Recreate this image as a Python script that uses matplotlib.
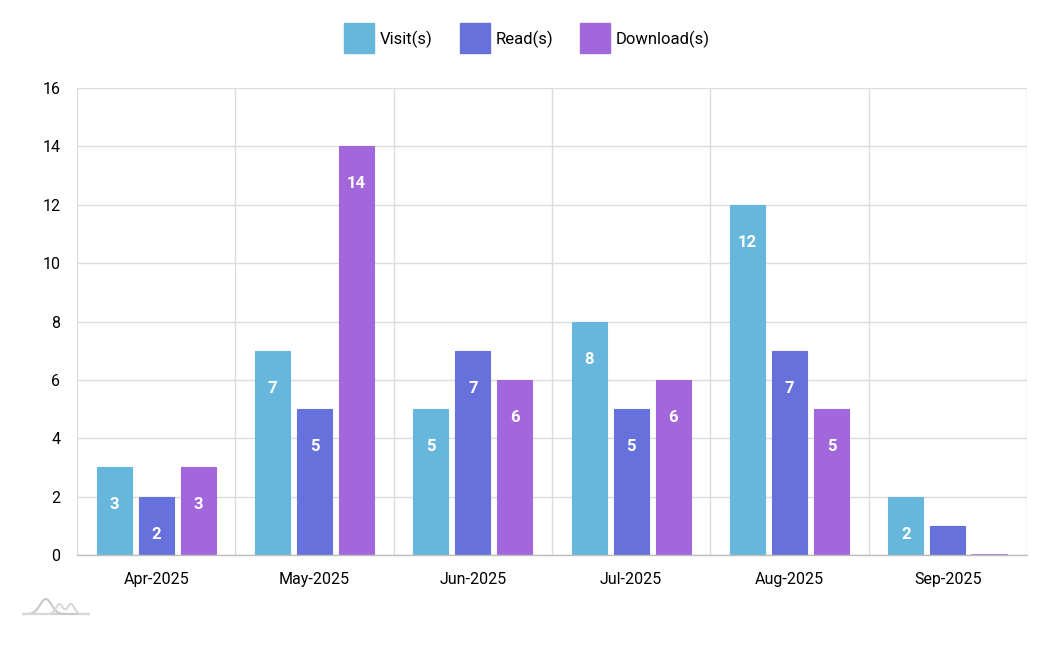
import matplotlib
matplotlib.use("Agg")
import matplotlib.pyplot as plt
import numpy as np
from matplotlib.lines import Line2D

months = ["Apr-2025", "May-2025", "Jun-2025", "Jul-2025", "Aug-2025", "Sep-2025"]
visits = [3, 7, 5, 8, 12, 2]
reads = [2, 5, 7, 5, 7, 1]
downloads = [3, 14, 6, 6, 5, 0]
series_names = ["Visit(s)", "Read(s)", "Download(s)"]
colors = ["#67b7dc", "#6771dc", "#a367dc"]
y_ticks = [0, 2, 4, 6, 8, 10, 12, 14, 16]

plt.rcParams['font.family'] = ['Roboto', 'DejaVu Sans']

W, H = 1056, 645
fig = plt.figure(figsize=(W / 100, H / 100), dpi=100)
ax = fig.add_axes([77 / W, 1 - 555 / H, 950 / W, (555 - 88) / H])

x = np.arange(len(months))
bw = 0.221
step = 0.265
all_series = [visits, reads, downloads]
for i, (vals, c) in enumerate(zip(all_series, colors)):
    pos = x + (i - 1) * step
    ax.bar(pos, vals, width=bw, color=c, edgecolor=c, linewidth=0.8, zorder=3)
    for xp, v in zip(pos, vals):
        if v >= 2:
            ax.annotate(str(v), (xp, v), xytext=(0, -27), textcoords="offset points",
                        ha="center", va="center", color="white", fontsize=12,
                        fontweight="bold", zorder=4)
        if v == 0:
            ax.plot([xp - bw / 2, xp + bw / 2], [0, 0], color=c, lw=1.2, zorder=4)

ax.set_xlim(-0.5, len(months) - 0.5)
ax.set_ylim(0, 16)
ax.set_yticks(y_ticks)
ax.set_yticklabels([str(t) for t in y_ticks])
ax.set_xticks(x)
ax.set_xticklabels(months)
ax.set_xticks(np.arange(-0.5, len(months)), minor=True)
ax.grid(False)
ax.yaxis.grid(True, color="#dcdcdc", lw=1, zorder=0)
ax.xaxis.grid(True, which="minor", color="#dcdcdc", lw=1, zorder=0)
for s in ["top", "right", "left"]:
    ax.spines[s].set_visible(False)
ax.spines["bottom"].set_color("#bdbdbd")
ax.spines["bottom"].set_linewidth(1)
ax.spines["bottom"].set_zorder(5)
ax.tick_params(axis="both", which="both", length=0, labelsize=11.5, colors="#000000")
ax.tick_params(axis="y", pad=12)
ax.tick_params(axis="x", pad=12)

# legend
handles = [Line2D([], [], marker="s", linestyle="none", markersize=21,
                  markerfacecolor=c, markeredgecolor=c) for c in colors]
fig.legend(handles, series_names, loc="center", bbox_to_anchor=(527 / W, 1 - 39 / H),
           ncol=3, frameon=False, fontsize=12, handlelength=1.8, handletextpad=0.35,
           columnspacing=1.6)

# logo (decorative)
lx = np.linspace(0, 1, 100)
logo_ax = fig.add_axes([22 / W, 1 - 616 / H, 68 / W, 20 / H])
logo_ax.axis("off")
logo_ax.set_xlim(0, 1)
logo_ax.set_ylim(0, 1)
logo_ax.plot([0, 1], [0.1, 0.1], color="#d0d0d0", lw=1.5)
logo_ax.plot(lx, 0.1 + 0.75 * np.exp(-((lx - 0.35) / 0.12) ** 2), color="#c8c8c8", lw=1.5)
logo_ax.plot(lx, 0.1 + 0.5 * np.exp(-((lx - 0.55) / 0.07) ** 2) + 0.5 * np.exp(-((lx - 0.72) / 0.07) ** 2),
             color="#d8d8d8", lw=1.5)

fig.savefig("out.png", dpi=100, facecolor="white")
